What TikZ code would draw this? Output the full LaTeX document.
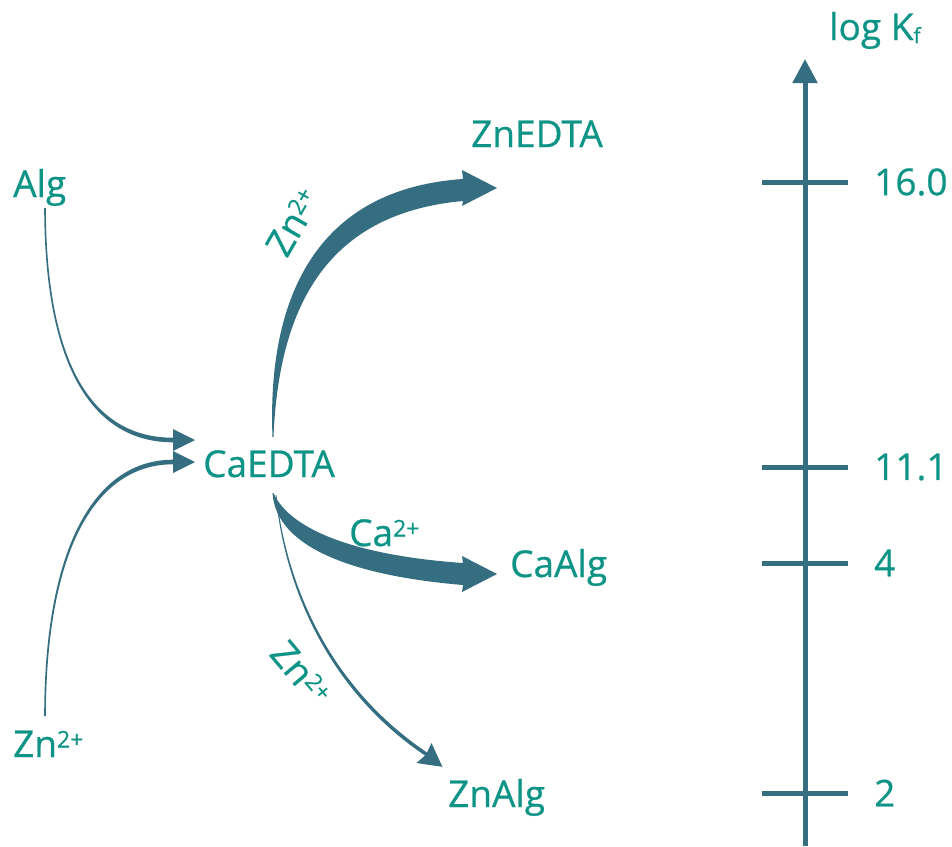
\documentclass[tikz,border=0pt]{standalone}
\usepackage{fontspec}
\setmainfont{Open Sans}
\newfontfamily\lblfont{Open Sans}[FakeBold=0.6]
\usetikzlibrary{arrows.meta}
\definecolor{tealc}{RGB}{14,148,134}
\definecolor{arrowc}{RGB}{52,110,128}
\newcommand{\sups}[1]{\raisebox{9.5pt}{\fontsize{23}{23}\selectfont #1}}
\begin{document}
\begin{tikzpicture}[x=1pt,y=-1pt,
  lbl/.style={text=tealc,inner sep=0pt,font=\lblfont\fontsize{37}{40}\selectfont},
  flow/.style={fill=arrowc,draw=none},
  axisline/.style={draw=arrowc,line width=5pt},
  ]
\path[use as bounding box] (0,0) rectangle (952,846);

% species
\node[lbl,anchor=base west] (alg) at (13,197) {Alg};
\node[lbl,anchor=base west] (zn) at (13,757) {Zn\sups{2+}};
\node[lbl,anchor=base west] (caedta) at (203,477) {CaEDTA};
\node[lbl,anchor=base west] (znedta) at (471,147) {ZnEDTA};
\node[lbl,anchor=base west] (caalg) at (510,577) {CaAlg};
\node[lbl,anchor=base west] (znalg) at (448,807) {ZnAlg};

% arrow labels
\node[lbl,rotate=60] (lzn1) at (293,222) {Zn\sups{2+}};
\node[lbl,anchor=base west] (lca) at (349,546) {Ca\sups{2+}};
\node[lbl,rotate=-50] (lzn2) at (301,673) {Zn\sups{2+}};

% Alg -> CaEDTA
\fill[flow] (45.8,208) .. controls (46.4,370) and (95.5,437.7) .. (173,437.7)
  -- (173,429) -- (195,440) -- (173,451) -- (173,442.3)
  .. controls (94.5,442.3) and (44.6,370) .. (44.2,208) -- cycle;
% Zn2+ -> CaEDTA
\fill[flow] (44.2,716) .. controls (44.4,545) and (96,459.7) .. (173,459.7)
  -- (173,451) -- (195,462) -- (173,473) -- (173,464.3)
  .. controls (98,464.3) and (46.3,545) .. (45.8,716) -- cycle;
% CaEDTA -> ZnEDTA
\fill[flow] (272.5,437) .. controls (267,298) and (316,189) .. (463,179)
  -- (462,170) -- (497,188) -- (462,206) -- (463,201)
  .. controls (330,213) and (279,302) .. (273.5,437) -- cycle;
% CaEDTA -> CaAlg
\fill[flow] (273.5,493) .. controls (291,532) and (362,556) .. (463,563)
  -- (462,556) -- (497,574) -- (462,592) -- (463,585)
  .. controls (355,576) and (276,548) .. (272.5,493) -- cycle;
% CaEDTA -> ZnAlg
\fill[flow] (276.4,495) .. controls (287,589.5) and (332,688.5) .. (427,752.5)
  -- (431.5,743) -- (442.4,766.8) -- (416.5,763) -- (425,755.5)
  .. controls (330,691.5) and (285,590.5) .. (275.6,495) -- cycle;

% axis
\coordinate (axb) at (805,846);
\coordinate (axt) at (805,59);
\draw[axisline,-{Triangle[width=24pt,length=24pt]}] (axb) -- (axt);
\foreach \yy/\txt/\nm in {182/16.0/t1, 467/11.1/t2, 563/4/t3, 793/2/t4}{
  \draw[axisline] (762,\yy) -- (848,\yy);
  \node[lbl,anchor=west] (\nm) at (874,\yy) {\txt};
}
\node[lbl,anchor=base west] (logk) at (829,40) {log K\raisebox{-3pt}{\fontsize{21}{21}\selectfont f}};
\end{tikzpicture}
\end{document}
